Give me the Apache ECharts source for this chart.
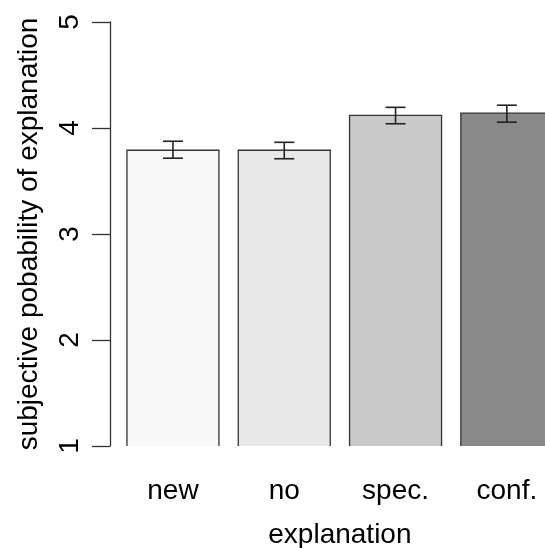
<!DOCTYPE html>
<html><head><meta charset="utf-8">
<script src="https://cdn.jsdelivr.net/npm/echarts@6/dist/echarts.min.js"></script>
<style>html,body{margin:0;padding:0;background:#fff}#c{width:545px;height:548px}</style>
</head><body><div id="c"></div>
<script>
const categories = ['new', 'no', 'spec.', 'conf.'];
const means = [3.79, 3.79, 4.12, 4.14];
const upper = [3.875, 3.865, 4.195, 4.215];
const lower = [3.715, 3.71, 4.04, 4.055];
const barColors = ['#f8f8f8', '#e8e8e8', '#c9c9c9', '#898989'];
const yTicks = [1, 2, 3, 4, 5];

const chart = echarts.init(document.getElementById('c'), null, {renderer: 'canvas'});
const FONT = 'Liberation Sans, Arial, sans-serif';
const FS = 28;
const BAR_RATIO = 92 / 111.3;

chart.setOption({
  animation: false,
  grid: {left: 117.3, width: 445.2, top: 22, bottom: 102, containLabel: false, outerBoundsMode: 'none'},
  xAxis: {
    type: 'category', data: categories,
    axisLine: {show: false}, axisTick: {show: false},
    axisLabel: {color: '#000', fontSize: FS, fontFamily: FONT, margin: 31},
    name: 'explanation', nameLocation: 'middle', nameGap: 75,
    nameTextStyle: {color: '#000', fontSize: FS, fontFamily: FONT}
  },
  yAxis: {
    type: 'value', min: yTicks[0], max: yTicks[yTicks.length - 1], interval: 1,
    offset: 7.3,
    splitLine: {show: false},
    axisLine: {show: true, lineStyle: {color: '#333', width: 1.3}},
    axisTick: {show: true, length: 18, lineStyle: {color: '#333', width: 1.3}},
    axisLabel: {color: '#000', fontSize: FS, fontFamily: FONT, rotate: 90, margin: 26},
    name: 'subjective pobability of explanation', nameLocation: 'middle', nameGap: 67, nameRotate: 90,
    nameTextStyle: {color: '#000', fontSize: FS, fontFamily: FONT}
  },
  series: [
    {
      type: 'custom',
      data: means.map((v, i) => [i, v]),
      renderItem: function (params, api) {
        const i = api.value(0);
        const top = api.coord([i, api.value(1)]);
        const base = api.coord([i, yTicks[0]]);
        const w = api.size([1, 0])[0] * BAR_RATIO;
        const x0 = top[0] - w / 2, x1 = top[0] + w / 2;
        return {
          type: 'group',
          children: [
            {type: 'rect', shape: {x: x0, y: top[1], width: w, height: base[1] - top[1]},
             style: {fill: barColors[i], stroke: null}},
            {type: 'polyline', shape: {points: [[x0, base[1]], [x0, top[1]], [x1, top[1]], [x1, base[1]]]},
             style: {stroke: '#333', lineWidth: 1.3, fill: null}}
          ]
        };
      }
    },
    {
      type: 'custom',
      data: means.map((v, i) => [i, lower[i], upper[i]]),
      renderItem: function (params, api) {
        const i = api.value(0);
        const lo = api.coord([i, api.value(1)]);
        const hi = api.coord([i, api.value(2)]);
        const cw = 10;
        const st = {stroke: '#222', lineWidth: 1.6};
        return {
          type: 'group',
          children: [
            {type: 'line', shape: {x1: lo[0], y1: lo[1], x2: hi[0], y2: hi[1]}, style: st},
            {type: 'line', shape: {x1: lo[0] - cw, y1: lo[1], x2: lo[0] + cw, y2: lo[1]}, style: st},
            {type: 'line', shape: {x1: hi[0] - cw, y1: hi[1], x2: hi[0] + cw, y2: hi[1]}, style: st}
          ]
        };
      }
    }
  ]
});
</script>
</body></html>
